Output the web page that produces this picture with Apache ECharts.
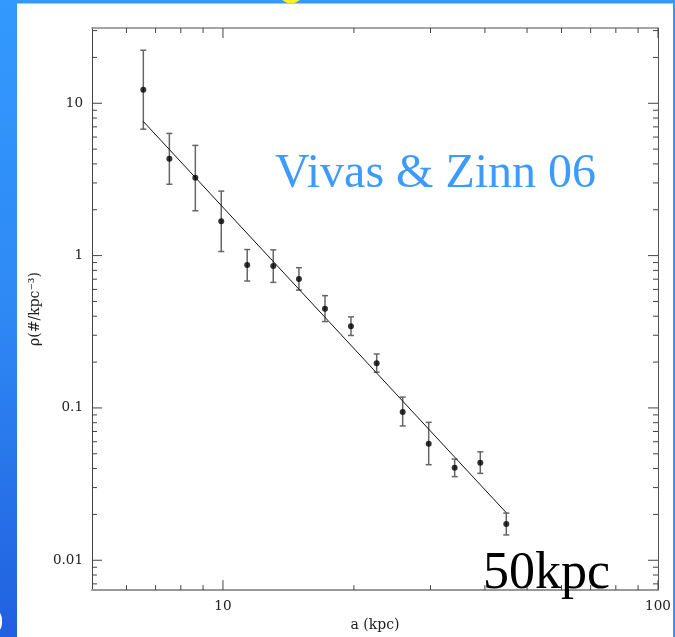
<!DOCTYPE html>
<html><head><meta charset="utf-8">
<script src="https://cdn.jsdelivr.net/npm/echarts@6/dist/echarts.min.js"></script>
<style>html,body{margin:0;padding:0;background:#fff}#c{width:675px;height:637px}</style>
</head><body><div id="c"></div>
<script>
// ---- data ----
const radius   = [6.56, 7.53, 8.64, 9.91, 11.37, 13.05, 14.95, 17.16, 19.69, 22.56, 25.89, 29.71, 34.09, 39.04, 44.80];
const density  = [12.29, 4.33, 3.24, 1.68, 0.866, 0.853, 0.701, 0.447, 0.344, 0.1965, 0.094, 0.0581, 0.0405, 0.0437, 0.0173];
const errHigh  = [22.3, 6.34, 5.29, 2.65, 1.096, 1.091, 0.833, 0.546, 0.396, 0.226, 0.1178, 0.0804, 0.0461, 0.0515, 0.0204];
const errLow   = [6.76, 2.94, 1.97, 1.064, 0.681, 0.667, 0.594, 0.369, 0.299, 0.1716, 0.0762, 0.0424, 0.0354, 0.0372, 0.01467];
const fitX = [6.56, 44.8];
const fitY = [7.60, 0.0205];
const xMajorTicks  = [10, 100];
const xMajorLabels = ['10', '100'];
const xMinorTicks  = [6, 7, 8, 9, 20, 30, 40, 50, 60, 70, 80, 90];
const yMajorTicks  = [0.01, 0.1, 1, 10];
const yMajorLabels = ['0.01', '0.1', '1', '10'];
const yMinorTicks  = [0.007, 0.008, 0.009,
  0.02, 0.03, 0.04, 0.05, 0.06, 0.07, 0.08, 0.09,
  0.2, 0.3, 0.4, 0.5, 0.6, 0.7, 0.8, 0.9,
  2, 3, 4, 5, 6, 7, 8, 9, 20, 30];
const xRange = [5, 100];
const yRange = [0.00637, 31.2];
const titleText = 'Vivas & Zinn 06';
const noteText = '50kpc';
const xName = 'a (kpc)';
const yName = 'ρ(#/kpc⁻³)';

// ---- chart ----
const chart = echarts.init(document.getElementById('c'), null, {renderer: 'canvas'});
const FONT = '"DejaVu Serif", serif';

function labelFor(v, ticks, labels) {
  for (let i = 0; i < ticks.length; i++) {
    if (Math.abs(Math.log10(v) - Math.log10(ticks[i])) < 1e-6) return labels[i];
  }
  return '';
}

const xTickData = xMinorTicks.map(v => [v, 1, 0]).concat(xMajorTicks.map(v => [v, 1, 1]));
const yTickData = yMinorTicks.map(v => [10, v, 0]).concat(yMajorTicks.map(v => [10, v, 1]));
const tickStyle = {stroke: '#444', lineWidth: 1};

chart.setOption({
  animation: false,
  backgroundColor: '#ffffff',
  grid: {left: 92, right: 17, top: 28, bottom: 43.7},
  xAxis: [{
    type: 'log', logBase: 10, min: xRange[0], max: xRange[1],
    name: xName, nameLocation: 'middle', nameGap: 25,
    nameTextStyle: {fontFamily: FONT, fontSize: 14, color: '#222'},
    axisLine: {show: true, lineStyle: {color: '#999', width: 2}},
    axisTick: {show: false},
    splitLine: {show: false},
    axisLabel: {show: true, margin: 9, fontFamily: FONT, fontSize: 13.5, color: '#222',
      showMinLabel: true, showMaxLabel: true,
      formatter: v => labelFor(v, xMajorTicks, xMajorLabels)}
  }, {
    type: 'log', logBase: 10, min: xRange[0], max: xRange[1], position: 'top',
    axisLine: {show: true, lineStyle: {color: '#888', width: 1.5}},
    axisTick: {show: false}, axisLabel: {show: false}, splitLine: {show: false}
  }],
  yAxis: [{
    type: 'log', logBase: 10, min: yRange[0], max: yRange[1],
    name: yName, nameLocation: 'middle', nameGap: 50, nameRotate: 90,
    nameTextStyle: {fontFamily: FONT, fontSize: 14, color: '#222'},
    axisLine: {show: true, lineStyle: {color: '#444', width: 1}},
    axisTick: {show: false},
    splitLine: {show: false},
    axisLabel: {show: true, margin: 9, fontFamily: FONT, fontSize: 13.5, color: '#222',
      showMinLabel: true, showMaxLabel: true,
      formatter: v => labelFor(v, yMajorTicks, yMajorLabels)}
  }, {
    type: 'log', logBase: 10, min: yRange[0], max: yRange[1], position: 'right',
    axisLine: {show: true, lineStyle: {color: '#555', width: 1}},
    axisTick: {show: false}, axisLabel: {show: false}, splitLine: {show: false}
  }],
  graphic: [
    {type: 'rect', z: -10, shape: {x: 0, y: 0, width: 17, height: 637},
      style: {fill: new echarts.graphic.LinearGradient(0, 0, 0, 1, [
        {offset: 0, color: '#3399ff'}, {offset: 0.5, color: '#2e88f4'}, {offset: 1, color: '#2160df'}])}},
    {type: 'rect', z: -10, shape: {x: 0, y: 0, width: 675, height: 3.5}, style: {fill: '#3399ff'}},
    {type: 'rect', z: -10, shape: {x: 673, y: 0, width: 2, height: 637}, style: {fill: '#3399ff'}},
    {type: 'circle', z: -9, shape: {cx: 291, cy: -9, r: 12.5}, style: {fill: '#ffee22'}},
    {type: 'text', z: -8, style: {text: ')', x: -6, y: 621, font: '28px "Liberation Serif", serif', fill: '#ffffff', verticalAlign: 'middle'}},
    {type: 'text', z: 100, style: {text: titleText, x: 275, y: 174, font: '48px "Liberation Serif", serif', fill: '#3d9bff', verticalAlign: 'middle'}},
    {type: 'text', z: 100, style: {text: noteText, x: 483, y: 574, font: '52px "Liberation Serif", serif', fill: '#000', verticalAlign: 'middle'}}
  ],
  series: [
    {
      type: 'custom', name: 'xticks', silent: true, z: 5, data: xTickData,
      renderItem: (params, api) => {
        const cs = params.coordSys;
        const x = api.coord([api.value(0), 1])[0];
        const len = api.value(2) ? 10 : 5;
        const b = cs.y + cs.height, t = cs.y;
        return {type: 'group', children: [
          {type: 'line', shape: {x1: x, y1: b, x2: x, y2: b - len}, style: tickStyle},
          {type: 'line', shape: {x1: x, y1: t, x2: x, y2: t + len}, style: tickStyle}
        ]};
      }
    },
    {
      type: 'custom', name: 'yticks', silent: true, z: 5, data: yTickData,
      renderItem: (params, api) => {
        const cs = params.coordSys;
        const y = api.coord([10, api.value(1)])[1];
        const len = api.value(2) ? 10 : 5;
        const l = cs.x, r = cs.x + cs.width;
        return {type: 'group', children: [
          {type: 'line', shape: {x1: l, y1: y, x2: l + len, y2: y}, style: tickStyle},
          {type: 'line', shape: {x1: r, y1: y, x2: r - len, y2: y}, style: tickStyle}
        ]};
      }
    },
    {
      type: 'custom', name: 'errors', z: 6,
      data: radius.map((x, i) => [x, errLow[i], errHigh[i]]),
      encode: {x: 0, y: [1, 2]},
      renderItem: (params, api) => {
        const lo = api.coord([api.value(0), api.value(1)]);
        const hi = api.coord([api.value(0), api.value(2)]);
        const w = 3;
        const st = {stroke: '#666', lineWidth: 1.5};
        return {type: 'group', children: [
          {type: 'line', shape: {x1: lo[0], y1: lo[1], x2: hi[0], y2: hi[1]}, style: st},
          {type: 'line', shape: {x1: lo[0] - w, y1: lo[1], x2: lo[0] + w, y2: lo[1]}, style: st},
          {type: 'line', shape: {x1: hi[0] - w, y1: hi[1], x2: hi[0] + w, y2: hi[1]}, style: st}
        ]};
      }
    },
    {
      type: 'line', name: 'fit', z: 7, showSymbol: false, symbol: 'none',
      data: fitX.map((x, i) => [x, fitY[i]]),
      lineStyle: {color: '#111', width: 1}
    },
    {
      type: 'scatter', name: 'data', z: 8, symbol: 'circle', symbolSize: 6,
      data: radius.map((x, i) => [x, density[i]]),
      itemStyle: {color: '#000'}
    }
  ]
});
</script></body></html>
